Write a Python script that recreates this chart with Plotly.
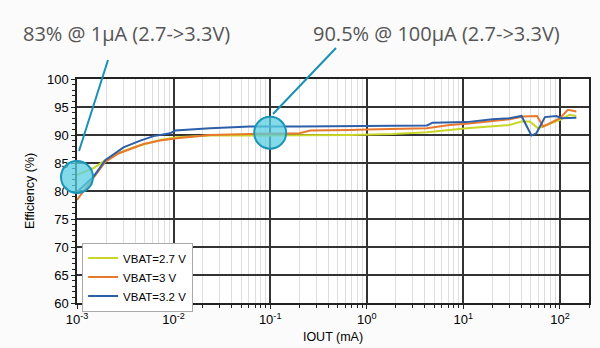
import math
import plotly.graph_objects as go

# ---- data ----
x_27 = [0.001, 0.00149, 0.00196, 0.00269, 0.00417, 0.00726, 0.0108, 0.0239, 0.062, 0.67,
        1.87, 4.2, 10.8, 30, 40, 48.7, 59.3, 72.5, 100, 126, 148]
y_27 = [82.9, 84.1, 85.5, 86.8, 88.0, 89.1, 89.6, 89.9, 89.9, 90.0,
        90.2, 90.5, 91.2, 91.8, 92.4, 92.4, 91.2, 91.8, 92.7, 93.6, 93.4]

x_30 = [0.001, 0.00127, 0.00161, 0.00196, 0.00269, 0.00371, 0.00489, 0.00726, 0.0108, 0.0239,
        0.062, 0.2, 0.26, 0.67, 1.0, 4.2, 7.2, 10.8, 30, 41.5, 58, 67, 85, 100, 121, 148]
y_30 = [78.4, 80.8, 83.2, 85.2, 86.7, 87.6, 88.4, 89.0, 89.4, 90.0,
        90.2, 90.3, 90.8, 90.9, 91.0, 91.2, 91.8, 92.0, 92.8, 93.3, 93.4, 91.5, 92.4, 93.0, 94.5, 94.2]

x_32 = [0.001, 0.00149, 0.00196, 0.00303, 0.00452, 0.0062, 0.0092, 0.0104, 0.0239, 0.062,
        0.2, 0.67, 2.0, 4.2, 4.8, 10.8, 20, 30, 40, 50.7, 57, 70, 92, 104, 148]
y_32 = [79.8, 82.6, 85.5, 87.8, 89.0, 89.8, 90.3, 90.8, 91.2, 91.5,
        91.5, 91.6, 91.6, 91.7, 92.2, 92.3, 92.8, 93.0, 93.4, 89.9, 90.3, 93.2, 93.4, 93.0, 93.1]

series_names = ["VBAT=2.7 V", "VBAT=3 V", "VBAT=3.2 V"]
series_colors = ["#c9d625", "#e8782c", "#2d5fa8"]

x_tickvals = [0.001, 0.01, 0.1, 1, 10, 100]
x_ticktext = ["10<sup>-3</sup>", "10<sup>-2</sup>", "10<sup>-1</sup>",
              "10<sup>0</sup>", "10<sup>1</sup>", "10<sup>2</sup>"]
y_tickvals = [60, 65, 70, 75, 80, 85, 90, 95, 100]

callout_texts = ["83% @ 1µA (2.7->3.3V)", "90.5% @ 100µA (2.7->3.3V)"]
callout_points = [(0.001, 82.5), (0.1, 90.4)]

X_RANGE = [-3, 2.301]
Y_RANGE = [60, 100]

fig = go.Figure()
for xs, ys, nm, col in zip([x_27, x_30, x_32], [y_27, y_30, y_32], series_names, series_colors):
    fig.add_trace(go.Scatter(x=xs, y=ys, mode="lines", name=nm,
                             line=dict(color=col, width=2)))

L, R, T, B = 77, 11, 79, 45
W, H = 600, 348
pw, ph = W - L - R, H - T - B

def px2paper(px, py):
    return (px - L) / pw, (H - B - py) / ph

def data2paper(x, y):
    return ((math.log10(x) - X_RANGE[0]) / (X_RANGE[1] - X_RANGE[0]),
            (y - Y_RANGE[0]) / (Y_RANGE[1] - Y_RANGE[0]))

shapes = []
for (ax0, ay0), (ax1, ay1) in [((108, 60), (79, 151)), ((336, 48), (273, 114))]:
    x0, y0 = px2paper(ax0, ay0)
    x1, y1 = px2paper(ax1, ay1)
    shapes.append(dict(type="line", xref="paper", yref="paper", x0=x0, y0=y0, x1=x1, y1=y1,
                       line=dict(color="#1a90b4", width=2)))
r = 16
for cx, cy in callout_points:
    px_, py_ = data2paper(cx, cy)
    shapes.append(dict(type="circle", xref="paper", yref="paper",
                       x0=px_ - r / pw, x1=px_ + r / pw, y0=py_ - r / ph, y1=py_ + r / ph,
                       fillcolor="rgba(90,205,225,0.75)", line=dict(color="#1a95b5", width=2)))

annotations = []
for txt, (apx, apy) in zip(callout_texts, [(21, 33), (311, 34)]):
    ax_, ay_ = px2paper(apx, apy)
    annotations.append(dict(text=txt, xref="paper", yref="paper", x=ax_, y=ay_,
                            xanchor="left", yanchor="middle", showarrow=False,
                            font=dict(family="Open Sans", size=20, color="#555555")))

fig.update_layout(
    width=W, height=H,
    margin=dict(l=L, r=R, t=T, b=B, autoexpand=False),
    paper_bgcolor="#fbfbfb", plot_bgcolor="#ffffff",
    font=dict(family="Liberation Sans, Arial", size=12, color="#000000"),
    showlegend=True,
    legend=dict(x=0.01, y=0.27, xanchor="left", yanchor="top",
                bgcolor="#ffffff", bordercolor="#aaaaaa", borderwidth=1,
                font=dict(size=11.5), tracegroupgap=0, itemwidth=30),
    shapes=shapes, annotations=annotations,
)
fig.update_xaxes(type="log", range=X_RANGE, automargin=False,
                 tickvals=x_tickvals, ticktext=x_ticktext, tickfont=dict(size=13),
                 showgrid=True, gridcolor="#333333", gridwidth=1.5,
                 showline=True, linecolor="#222222", linewidth=1.5, mirror=True,
                 ticks="outside", ticklen=4, tickcolor="#222222",
                 minor=dict(dtick="D1", showgrid=True, gridcolor="#dddddd", gridwidth=1,
                            ticks="outside", ticklen=3, tickcolor="#222222"),
                 title=dict(text="IOUT (mA)", standoff=6, font=dict(size=12.5)),
                 zeroline=False)
fig.update_yaxes(range=Y_RANGE, automargin=False, tickvals=y_tickvals, tickfont=dict(size=13),
                 showgrid=True, gridcolor="#333333", gridwidth=1.5,
                 showline=True, linecolor="#222222", linewidth=1.5, mirror=True,
                 ticks="outside", ticklen=4, tickcolor="#222222",
                 minor=dict(dtick=1, showgrid=False, ticks="outside", ticklen=3, tickcolor="#222222"),
                 title=dict(text="Efficiency (%)", standoff=10, font=dict(size=12.5)),
                 zeroline=False)

fig.write_html("out.html")
